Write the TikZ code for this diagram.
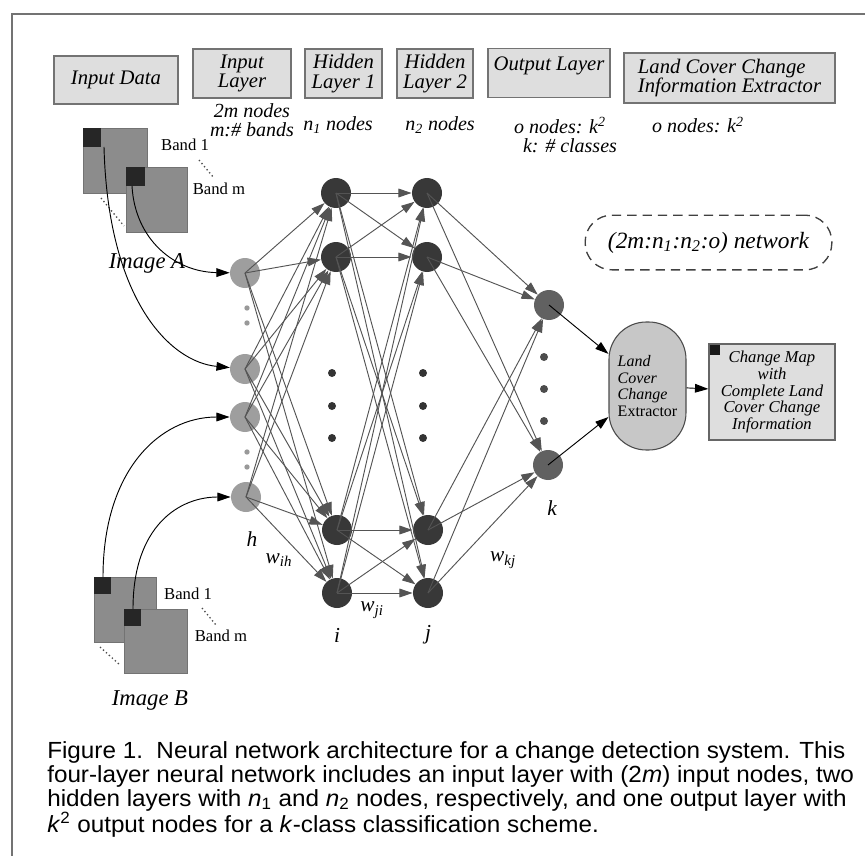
\documentclass[tikz,border=0pt]{standalone}
\usepackage{fontspec}
\setmainfont{Liberation Serif}
\newfontfamily\capfont[FakeStretch=1.04]{Liberation Sans}
\usetikzlibrary{arrows.meta, positioning, shapes.geometric, calc}
\definecolor{boxgray}{gray}{0.87}
\definecolor{edgegray}{gray}{0.33}

\begin{document}
\begin{tikzpicture}[
			x=0.75pt, y=-0.75pt,
			every node/.style={font=\itshape\fontsize{15.5}{14.5}\selectfont},
			headbox/.style={draw=black!55, line width=1.2pt, fill=boxgray, inner sep=1pt, align=center, minimum height=36.75pt},
			innode/.style={circle, fill=black!38, minimum size=22.5pt, inner sep=0pt},
			hidnode/.style={circle, fill=black!78, minimum size=22.5pt, inner sep=0pt},
			outnode/.style={circle, fill=black!62, minimum size=22.5pt, inner sep=0pt},
			sublabel/.style={font=\itshape\fontsize{15}{14}\selectfont, align=center},
			varlabel/.style={font=\itshape\fontsize{16}{16}\selectfont},
			bandlabel/.style={font=\upshape\fontsize{12.5}{12.5}\selectfont},
			dotnode/.style={circle, fill=black!80, minimum size=6pt, inner sep=0pt},
			smalldot/.style={circle, fill=black!40, minimum size=4pt, inner sep=0pt},
			link/.style={-{Triangle[length=10pt, width=6.5pt]}, draw=edgegray, line width=0.7pt},
			feed/.style={-{Triangle[length=10pt, width=6.5pt]}, black, line width=0.7pt},
			band/.style={fill=black!45, draw=black!55, line width=0.4pt}
		]
		\useasboundingbox (0,0) rectangle (865,856);
		% frame
		\draw[black!55, line width=1.5pt] (865,14) -- (12,14) -- (12,856);

		% header row
		\node[headbox, minimum width=93pt, minimum height=36pt] (hdata) at (116,80) {Input Data};
		\node[headbox, minimum width=73.5pt] (hinput) at (242,73.5) {Input\\Layer};
		\node[headbox, minimum width=57.75pt] (hhid1) at (343.5,73.5) {Hidden\\Layer 1};
		\node[headbox, minimum width=57pt] (hhid2) at (435,73.5) {Hidden\\Layer 2};
		\node[headbox, minimum width=91.5pt] (hout) at (549,73) {Output Layer\\\mbox{}};
		\node[headbox, minimum width=158pt, minimum height=37.5pt, align=left] (hext) at (729.5,78) {Land Cover Change\\Information Extractor};

		\node[sublabel] (sinput) at (252,120) {2m nodes\\m:\# bands};
		\node[sublabel] (shid1) at (338,125) {n\textsubscript{1} nodes};
		\node[sublabel] (shid2) at (440,125) {n\textsubscript{2} nodes};
		\node[sublabel] (sout) at (560,135) {o nodes: k\textsuperscript{2}\\\hspace*{1em}k: \# classes};
		\node[sublabel] (sext) at (698,125) {o nodes: k\textsuperscript{2}};

		% image A
		\draw[black!70, dotted, line width=1pt] (101,198) -- (124,226);
		\draw[band] (83,128) rectangle (147,193);
		\fill[black!85] (83,128) rectangle (101,147);
		\draw[band] (126,167) rectangle (187,232);
		\fill[black!85] (126,167) rectangle (145,186);
		\draw[black!70, dotted, line width=1pt] (199,160) -- (214,178);
		\node[bandlabel] (a1lab) at (185,145) {Band 1};
		\node[bandlabel] (amlab) at (219,189) {Band m};
		\node[varlabel, font=\itshape\fontsize{17}{17}\selectfont] (imga) at (147,263) {Image A};
		\coordinate (a1pix) at (104,147);
		\coordinate (ampix) at (132,186);

		% image B
		\draw[black!70, dotted, line width=1pt] (100,647) -- (120,665);
		\draw[band] (94,577) rectangle (156,642);
		\fill[black!85] (94,577) rectangle (111,594);
		\draw[band] (124,609) rectangle (187,673);
		\fill[black!85] (124,609) rectangle (141,626);
		\draw[black!70, dotted, line width=1pt] (202,608) -- (216,625);
		\node[bandlabel] (b1lab) at (188,594) {Band 1};
		\node[bandlabel] (bmlab) at (221,636) {Band m};
		\node[varlabel, font=\itshape\fontsize{17}{17}\selectfont] (imgb) at (150,700) {Image B};
		\coordinate (b1pix) at (103,577);
		\coordinate (bmpix) at (133,609);

		% input layer
		\node[innode] (in1) at (245,273) {};
		\node[innode] (in2) at (245,369) {};
		\node[innode] (in3) at (245,417) {};
		\node[innode] (in4) at (246,497) {};
		\foreach \y in {308,323,452,467}
			\node[smalldot] at (247,\y) {};

		% hidden layers
		\node[hidnode] (ha1) at (336,193) {};
		\node[hidnode] (ha2) at (336,257) {};
		\node[hidnode] (ha3) at (337,530) {};
		\node[hidnode] (ha4) at (337,593) {};
		\node[hidnode] (hb1) at (427,193) {};
		\node[hidnode] (hb2) at (427,257) {};
		\node[hidnode] (hb3) at (428,530) {};
		\node[hidnode] (hb4) at (428,593) {};
		\foreach \y in {373,406,438} {
			\node[dotnode] at (332,\y) {};
			\node[dotnode] at (423,\y) {};
		}

		% output layer
		\node[outnode] (o1) at (549,305) {};
		\node[outnode] (o2) at (548,465) {};
		\foreach \y in {357,389,421}
			\node[smalldot, fill=black!70, minimum size=6pt] at (544,\y) {};

		% extractor and result
		\node[draw=black!70, line width=0.8pt, fill=black!22, rounded corners=28pt, minimum width=57.75pt, minimum height=96pt, align=left, inner sep=2pt,
			font=\fontsize{12}{12.4}\selectfont] (ext) at (647.5,386) {\textit{Land}\\\textit{Cover}\\\textit{Change}\\Extractor};
		\node[draw=black!60, line width=1pt, fill=boxgray, minimum width=94.5pt, minimum height=72pt, align=center, inner sep=1pt,
			font=\itshape\fontsize{12.5}{12.6}\selectfont] (cmap) at (772,392) {Change Map\\with\\Complete Land\\Cover Change\\Information};
		\fill[black!90] (709.5,344.5) rectangle (720,355);
		\node[draw=black!75, dashed, dash pattern=on 7pt off 4.5pt, line width=1pt, rounded corners=20pt, minimum width=185pt, minimum height=41pt,
			font=\itshape\fontsize{17.5}{17.5}\selectfont] (netlab) at (708.5,242.5) {(2m:n\textsubscript{1}:n\textsubscript{2}:o) network};

		% connections
		\foreach \s in {in1,in2,in3,in4}
			\foreach \t in {ha1,ha2,ha3,ha4}
				\draw[link] (\s.center) -- (\t);
		\foreach \s in {ha1,ha2,ha3,ha4}
			\foreach \t in {hb1,hb2,hb3,hb4}
				\draw[link] (\s.center) -- (\t);
		\foreach \s in {hb1,hb2,hb3,hb4}
			\foreach \t in {o1,o2}
				\draw[link] (\s.center) -- (\t);
		\draw[feed] (o1.center) -- (ext);
		\draw[feed] (o2.center) -- (ext);
		\draw[feed] (ext) -- (cmap);

		% pixel feeds
		\draw[feed] (ampix) .. controls (135,240) and (175,272) .. (in1);
		\draw[feed] (a1pix) .. controls (108,300) and (170,362) .. (in2);
		\draw[feed] (b1pix) .. controls (103,470) and (160,417) .. (in3);
		\draw[feed] (bmpix) .. controls (133,525) and (180,497) .. (in4);

		% weight labels
		\node[varlabel] (lh) at (252,539) {h};
		\node[varlabel] (lwih) at (279,560) {w\textsubscript{ih}};
		\node[varlabel] (lwji) at (372,610) {w\textsubscript{ji}};
		\node[varlabel] (li) at (337,635) {i};
		\node[varlabel] (lj) at (428,635) {j};
		\node[varlabel] (lwkj) at (503,560) {w\textsubscript{kj}};
		\node[varlabel] (lk) at (552,508) {k};

		% caption
		\node[anchor=north west, inner sep=0pt, align=left, font=\capfont\fontsize{17.5}{18}\selectfont] (caption) at (47,741)
			{Figure 1.\ \ Neural network architecture for a change detection system. This\\
			four-layer neural network includes an input layer with (2\textit{m}) input nodes, two\\
			hidden layers with \textit{n}\textsubscript{1} and \textit{n}\textsubscript{2} nodes, respectively, and one output layer with\\
			\textit{k}\textsuperscript{2} output nodes for a \textit{k}-class classification scheme.};
	\end{tikzpicture}
\end{document}
